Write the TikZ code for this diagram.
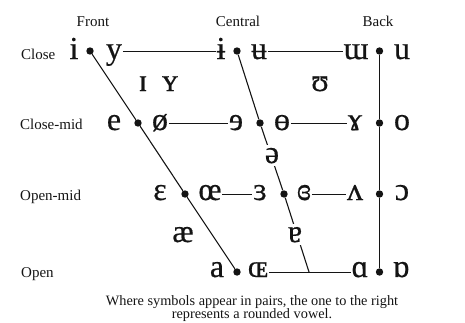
\documentclass[tikz,border=0pt]{standalone}
\usepackage{fontspec}
\setmainfont{Liberation Serif}
\newfontfamily\ipafont[FakeBold=0.5]{Liberation Serif}
\usetikzlibrary{calc}
\definecolor{ipaInk}{HTML}{141414}
\tikzset{
  vw/.style      = {font=\ipafont\fontsize{32}{34}\selectfont, inner sep=0.6pt,
                    anchor=base, text=ipaInk},
  vwgap/.style   = {vw, fill=white, inner ysep=2.5pt},
  rowlbl/.style  = {font=\fontsize{15}{17}\selectfont, inner sep=0, anchor=base west,
                    text=ipaInk},
  collbl/.style  = {font=\fontsize{15}{17}\selectfont, inner sep=0, anchor=base,
                    text=ipaInk},
  notetxt/.style = {font=\fontsize{14.3}{15}\selectfont, inner sep=0, anchor=base,
                    text=ipaInk},
  vdot/.style    = {circle, fill=ipaInk, inner sep=0, minimum size=7.4pt},
  rim/.style     = {line width=1.1pt, color=ipaInk},
  bar/.style     = {line width=0.8pt, color=ipaInk},
}
% #1 x, #2 baseline, #3 name, #4 symbol
\newcommand{\vw}[4]{\node[vw] (#3) at (#1,#2) {#4};}

\begin{document}
\begin{tikzpicture}[x=1pt, y=-1pt, line cap=butt]
\useasboundingbox (0,0) rectangle (465,322);

% ===================== headings ==========================
\node[collbl] (hfront) at (93,26)   {Front};
\node[collbl] (hcent)  at (238,26)  {Central};
\node[collbl] (hback)  at (378,26)  {Back};

\node[rowlbl] (rclose) at (21,59)   {Close};
\node[rowlbl] (rcmid)  at (20,129)  {Close-mid};
\node[rowlbl] (romid)  at (20,200)  {Open-mid};
\node[rowlbl] (ropen)  at (21,277)  {Open};

% ===================== the points ========================
\node[vdot] (fc)  at (90,51)  {};
\node[vdot] (cc)  at (237,51) {};
\node[vdot] (bc)  at (379.5,51) {};
\node[vdot] (fcm) at (138,123) {};
\node[vdot] (ccm) at (260,123) {};
\node[vdot] (bcm) at (379.5,123) {};
\node[vdot] (fom) at (185,194) {};
\node[vdot] (com) at (284,194) {};
\node[vdot] (bom) at (379.5,194) {};
\node[vdot] (fo)  at (237,272) {};
\node[vdot] (bo)  at (379.5,272) {};
\coordinate (co) at (309,272);

\draw[rim] (fc) -- (fcm) -- (fom) -- (fo);
\draw[rim] (cc) -- (ccm) -- (com) -- (co);
\draw[rim] (bc) -- (bcm) -- (bom) -- (bo);

% ===================== symbols ===========================
\vw{74}{59}{si}{i}     \vw{114}{59}{sy}{y}
\vw{221}{59}{sib}{ɨ}   \vw{259}{59}{sub}{ʉ}
\vw{356}{59}{smu}{ɯ}   \vw{402}{59}{su}{u}

\vw{143}{91}{ssi}{ɪ}   \vw{170}{91}{ssy}{ʏ}
\vw{320}{91}{shu}{ʊ}

\vw{114}{130}{se}{e}   \vw{160}{130}{soe}{ø}
\vw{236}{130}{sre}{ɘ}  \vw{282}{130}{sbo}{ɵ}
\vw{355}{130}{sgm}{ɤ}  \vw{402}{130}{so}{o}

\node[vwgap] (sschwa) at (272,163) {ə};

\vw{160}{200}{seps}{ɛ} \vw{210}{200}{soel}{œ}
\vw{260}{200}{sreps}{ɜ} \vw{304}{200}{scre}{ɞ}
\vw{355}{200}{swv}{ʌ}  \vw{402}{200}{soo}{ɔ}

\vw{183}{242}{sae}{æ}
\node[vwgap] (sta) at (295,242) {ɐ};

\vw{217}{277}{sa}{a}   \vw{258}{277}{soes}{ɶ}
\vw{360}{277}{sal}{ɑ}  \vw{401}{277}{sral}{ɒ}

% ===================== level lines =======================
\draw[bar] (sy.east |- fc)    -- (sib.west |- fc);
\draw[bar] (sub.east |- cc)   -- (smu.west |- cc);
\draw[bar] (soe.east |- fcm)  -- (sre.west |- fcm);
\draw[bar] (sbo.east |- ccm)  -- (sgm.west |- ccm);
\draw[bar] (soel.east |- fom) -- (sreps.west |- fom);
\draw[bar] (scre.east |- com) -- (swv.west |- com);
\draw[bar] (soes.east |- fo)  -- (sal.west |- fo);

% ===================== note ==============================
\node[notetxt] (note1) at (252,305) {Where symbols appear in pairs, the one to the right};
\node[notetxt] (note2) at (252,318) {represents a rounded vowel.};

\end{tikzpicture}
\end{document}
